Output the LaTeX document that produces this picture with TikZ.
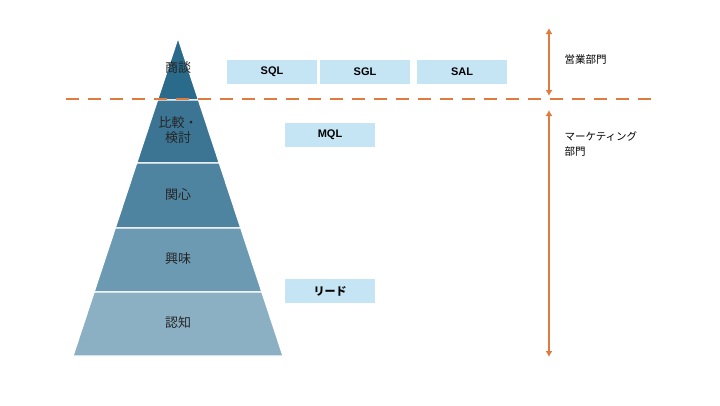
\documentclass[tikz,border=0pt]{standalone}
\usepackage{fontspec}
\setmainfont{Liberation Sans}
\newfontfamily\jpfont{Noto Sans CJK JP}
\usetikzlibrary{arrows.meta}
\definecolor{lvA}{HTML}{2A6A8A}
\definecolor{lvB}{HTML}{3B7593}
\definecolor{lvC}{HTML}{4F84A0}
\definecolor{lvD}{HTML}{6C9AB2}
\definecolor{lvE}{HTML}{8BB0C3}
\definecolor{boxblue}{HTML}{C5E5F5}
\definecolor{deptorange}{HTML}{E07A3E}
\tikzset{
stage_label/.style={font=\jpfont\fontsize{13}{15}\selectfont, text=black!85, align=center},
stage_box/.style={fill=boxblue, minimum width=90pt, minimum height=24pt, inner sep=0, font=\bfseries\fontsize{11}{13}\selectfont},
dept_label/.style={font=\jpfont\fontsize{10.5}{15}\selectfont, anchor=north west, align=left},
dept_arrow/.style={deptorange, line width=2.2pt, {Latex[length=6pt,width=7pt]}-{Latex[length=6pt,width=7pt]}},
}
\begin{document}
\begin{tikzpicture}[x=1pt,y=-1pt]
\useasboundingbox (0,0) rectangle (720,405);
% pyramid layers
\foreach \ya/\yb/\col in {38/100/lvA,100/163/lvB,163/228/lvC,228/292/lvD,292/356/lvE}{
  \pgfmathsetmacro{\wa}{(\ya-38)*0.33019}
  \pgfmathsetmacro{\wb}{(\yb-38)*0.33019}
  \fill[\col, draw=white, line width=1.2pt] (178-\wa,\ya) -- (178+\wa,\ya) -- (178+\wb,\yb) -- (178-\wb,\yb) -- cycle;
}
\node[stage_label] (shodan) at (178,68) {商談};
\node[stage_label] (hikaku) at (178,130) {比較・\\検討};
\node[stage_label] (kanshin) at (178,195) {関心};
\node[stage_label] (kyomi) at (178,259) {興味};
\node[stage_label] (ninchi) at (178,323) {認知};
%
\node[stage_box] (sql) at (272,72) {SQL};
\node[stage_box] (sgl) at (365,72) {SGL};
\node[stage_box] (sal) at (462,72) {SAL};
\node[stage_box] (mql) at (330,135) {MQL};
\node[stage_box] (lead) at (330,291) {\jpfont\bfseries リード};
%
\draw[deptorange, line width=2pt, dash pattern=on 13pt off 9pt] (66,99) -- (655,99);
\coordinate (salesTop) at (549,28);
\coordinate (salesBot) at (549,96);
\coordinate (mktTop) at (549,110);
\coordinate (mktBot) at (549,357);
\draw[dept_arrow] (salesTop) -- (salesBot);
\draw[dept_arrow] (mktTop) -- (mktBot);
\node[dept_label] (sales) at (561,51) {営業部門};
\node[dept_label] (mkt) at (561,128) {マーケティング\\部門};
\end{tikzpicture}
\end{document}
